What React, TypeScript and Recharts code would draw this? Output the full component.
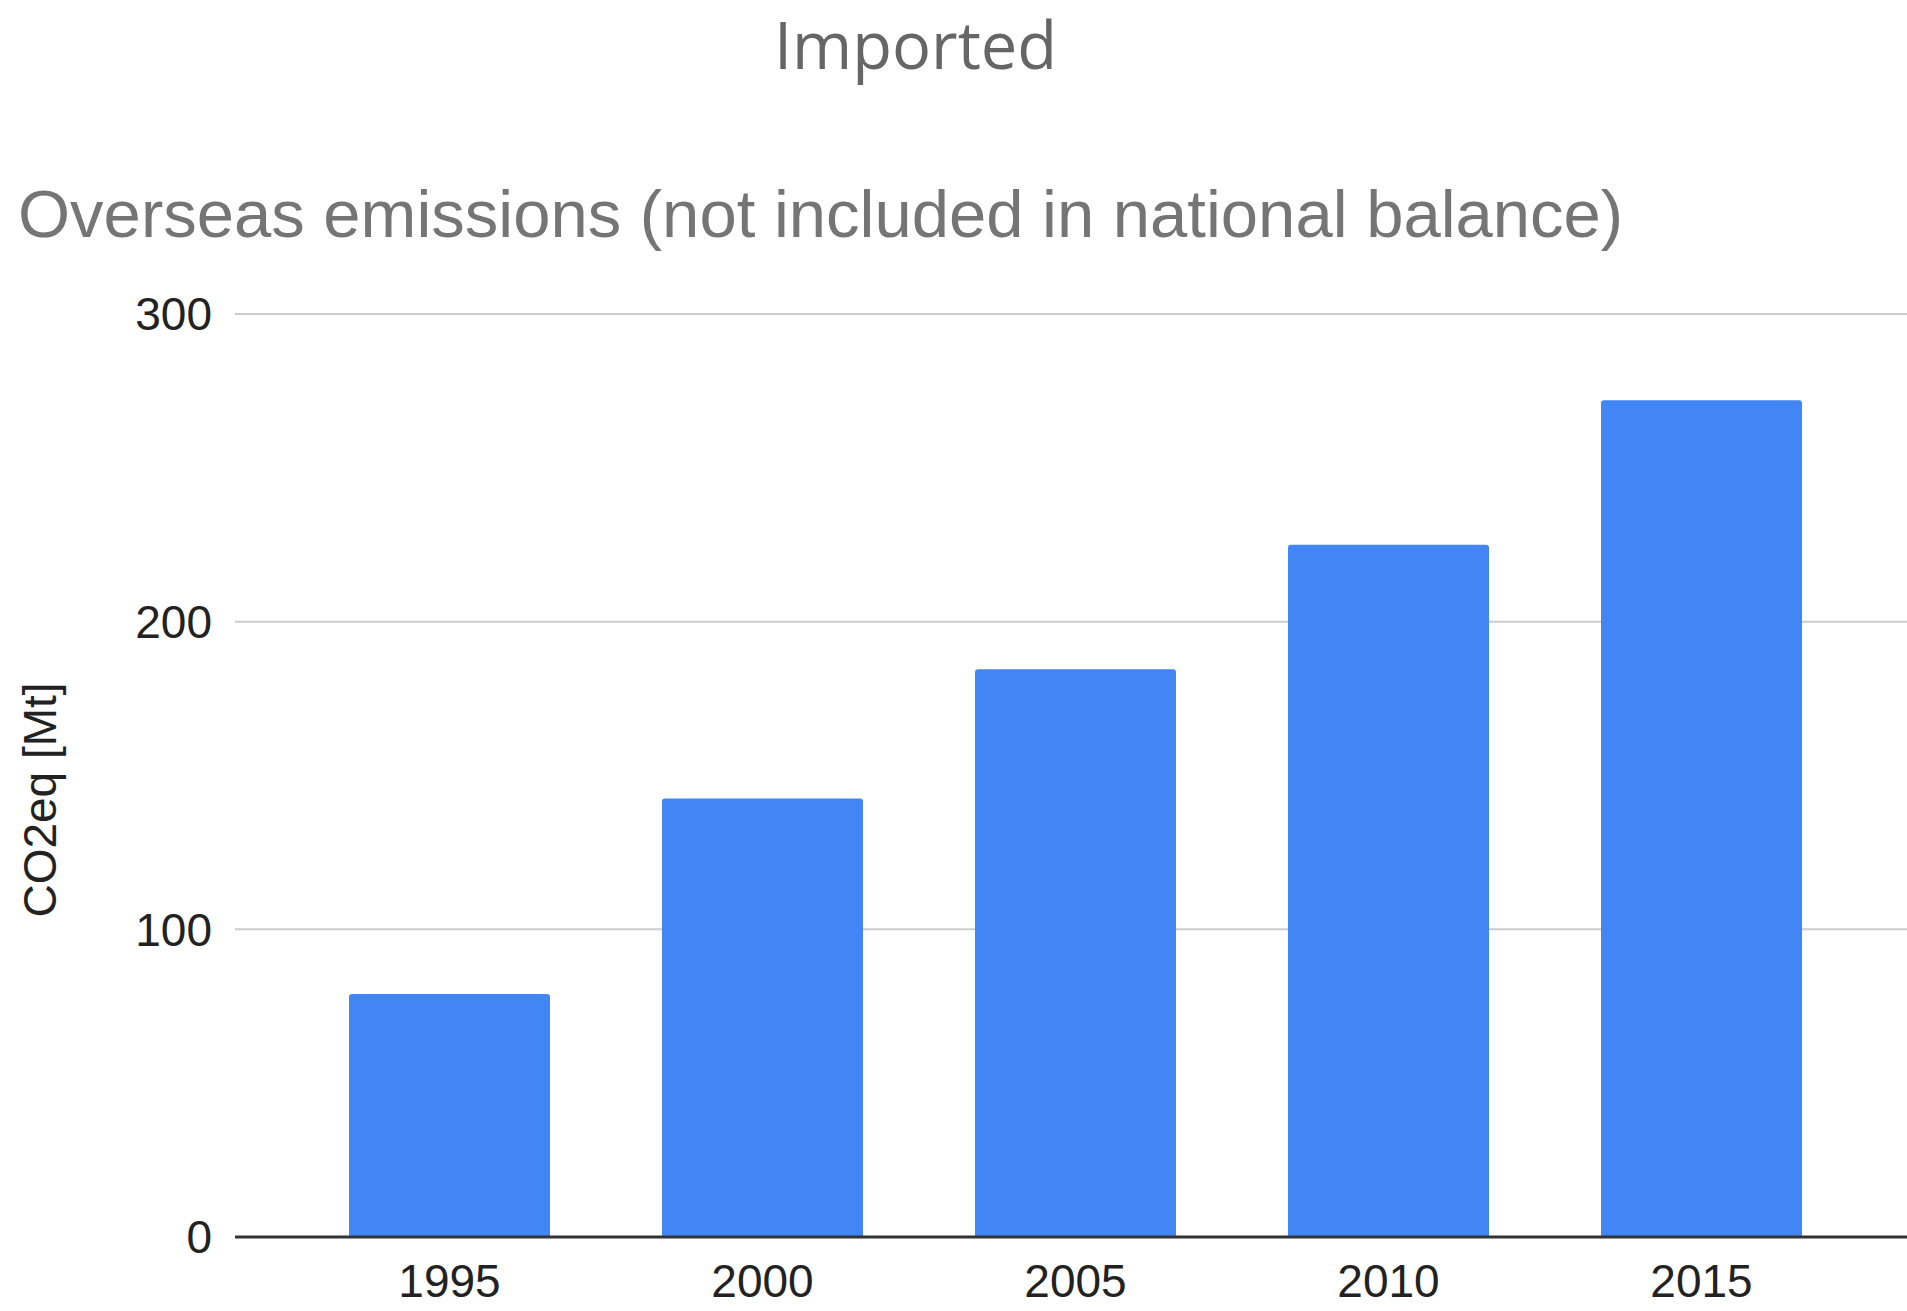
import React from 'react';
import { BarChart, Bar, XAxis, YAxis, CartesianGrid } from 'recharts';

const years = ['1995', '2000', '2005', '2010', '2015'];
const emissions = [79, 142.5, 184.5, 225, 272];
const yTicks = [0, 100, 200, 300];

const data = years.map((year, i) => ({ year, value: emissions[i] }));

const YLabel = () => (
  <text
    x={40}
    y={800}
    transform="rotate(-90, 40, 800)"
    textAnchor="middle"
    dominantBaseline="central"
    fontFamily="'Liberation Sans', Arial, sans-serif"
    fontSize={46}
    fill="#222"
  >
    CO2eq [Mt]
  </text>
);

const App: React.FC = () => {
  return (
    <div style={{ position: 'relative', width: 1907, height: 1311, background: '#fff' }}>
      <style>{'body{margin:0}'}</style>
      <div
        style={{
          position: 'absolute',
          left: 0,
          width: 1831,
          top: 0,
          textAlign: 'center',
          fontFamily: "'Open Sans', sans-serif",
          fontSize: 65,
          lineHeight: 'normal',
          color: '#666',
        }}
      >
        Imported
      </div>
      <div
        style={{
          position: 'absolute',
          left: 18,
          top: 178,
          fontFamily: "'Liberation Sans', Arial, sans-serif",
          fontSize: 67,
          lineHeight: '72px',
          color: '#757575',
          whiteSpace: 'nowrap',
        }}
      >
        Overseas emissions (not included in national balance)
      </div>
      <BarChart
        width={1907}
        height={1311}
        data={data}
        margin={{ top: 314, right: 0, bottom: 0, left: 0 }}
        style={{ position: 'absolute', left: 0, top: 0 }}
      >
        <CartesianGrid vertical={false} stroke="#ccc" strokeWidth={2} />
        <XAxis
          dataKey="year"
          height={74}
          padding={{ left: 58, right: 49 }}
          axisLine={{ stroke: '#333', strokeWidth: 3 }}
          tickLine={false}
          tickSize={0}
          tickMargin={27}
          tick={{ fontSize: 46, fill: '#222', fontFamily: "'Liberation Sans', Arial, sans-serif" }}
        />
        <YAxis
          width={235}
          domain={[0, 300]}
          ticks={yTicks}
          axisLine={false}
          tickLine={false}
          tickSize={0}
          tickMargin={23}
          tick={{ fontSize: 46, fill: '#222', fontFamily: "'Liberation Sans', Arial, sans-serif" }}
          label={<YLabel />}
        />
        <Bar dataKey="value" fill="#4285f4" barSize={201} radius={[3, 3, 0, 0]} isAnimationActive={false} />
      </BarChart>
    </div>
  );
};

export default App;
